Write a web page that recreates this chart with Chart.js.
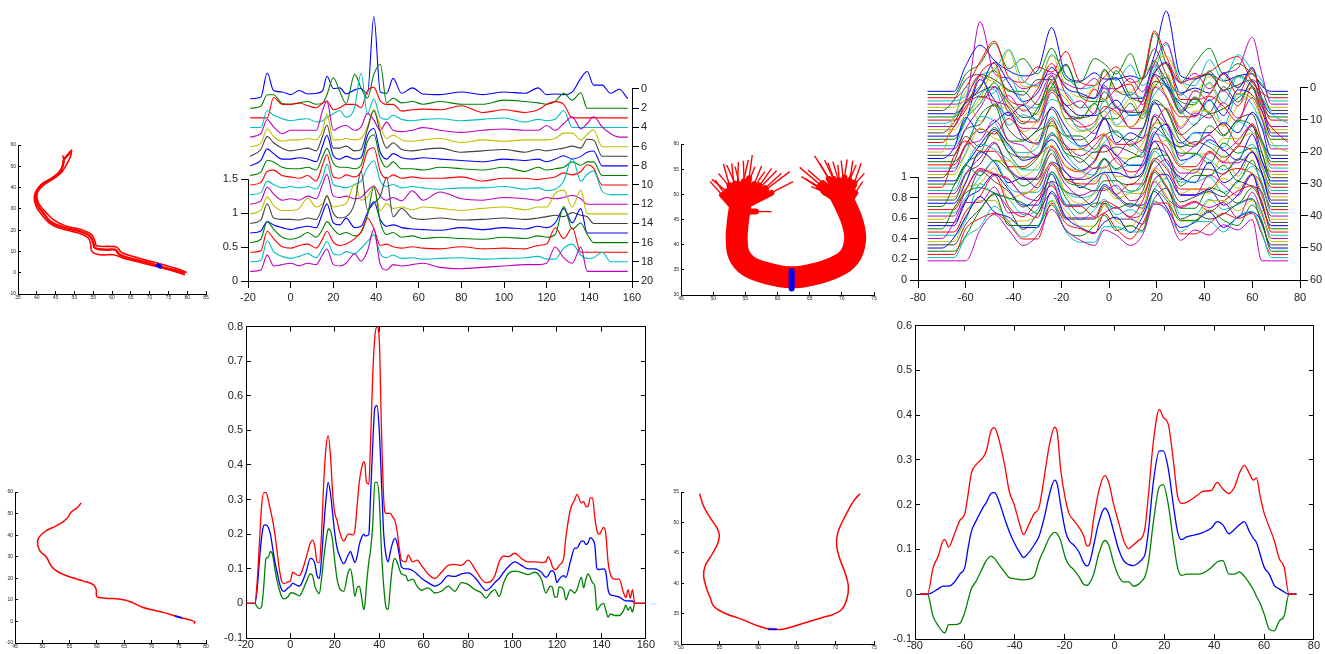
<!DOCTYPE html>
<html>
<head>
<meta charset="utf-8">
<script src="https://cdn.jsdelivr.net/npm/chart.js@4.4.1/dist/chart.umd.min.js"></script>
<style>
html,body{margin:0;padding:0;background:#fff;}
#fig{position:relative;width:1325px;height:654px;background:#fff;overflow:hidden;}
#fig canvas{position:absolute;}
</style>
</head>
<body>
<div id="fig"></div>
<script>
// ---------- data ----------

// top-left: a few streamlines of the bundle
let tractA1X=[49.1,48.39,47.23,46.88,45.99,44.4,41.29,39.79,40.14,41.74,43.51,46.61,51.49,54.15,55.04,55.48,58.58,60.8,62.13,65.67,70.11,72.77,76.31,78.97,79.4]
let tractA1Y=[57.2,55.6,53.2,50.1,46.9,44.6,41.4,36.7,32.0,28.1,24.2,21.5,19.4,17.1,13.9,11.6,10.8,10.8,8.4,6.4,4.5,2.9,1.4,0.1,-0.2]
let tractA2X=[46.88,47.23,46.7,45.28,42.62,40.41,39.34,39.79,41.29,43.33,46.17,51.05,53.71,54.33,54.68,56.81,60.35,63.01,66.56,70.99,74.54,78.09,79.4]
let tractA2Y=[55.13,52.92,49.31,46.16,43.02,39.87,35.94,31.23,27.3,23.36,20.85,18.65,16.29,13.14,10.0,8.43,8.43,6.86,5.28,3.24,1.67,-0.22,-1.0]
let tractA3X=[49.27,49.01,47.94,46.61,44.4,41.74,40.14,40.41,42.18,44.4,47.5,52.38,54.59,55.48,55.92,59.47,61.24,62.57,66.12,70.55,73.65,77.2,79.86]
let tractA3Y=[57.96,54.81,50.88,47.26,44.12,40.97,37.52,32.8,28.87,24.94,22.11,19.91,17.86,14.72,12.67,12.36,12.04,9.53,7.33,5.28,3.71,1.98,0.09]
let markA={x:[71.8,73.2],y:[3.9,2.6]}

// top-middle: 19 stacked profiles (height above each baseline)
let gridB=[-19,-14,-11,-8,-4,0,4,8,12,15,17,20,23,26,30,33,36,39,42,45,48,52,57,62,70,80,90,100,110,116,120,124,128,132,136,139,142,146,150,154,158]
let profilesB=[
[0,0.02,0.38,0.12,0.1,0.06,0.12,0.07,0.08,0.12,0.33,0.15,0.16,0.07,0.13,0.15,0.07,1.21,0.1,0.08,0.3,0.08,0.16,0.07,0.06,0.1,0.06,0.1,0.08,0.16,0.06,0.07,0.06,0.1,0.3,0.4,0.2,0.2,0.08,0.14,0],
[0,0.03,0.2,0.2,0.07,0.06,0.08,0.1,0.06,0.08,0.2,0.45,0.25,0.07,0.5,0.3,0.15,0.5,0.65,0.08,0.15,0.08,0.1,0.06,0.1,0.06,0.06,0.12,0.1,0.08,0.06,0.1,0.22,0.12,0.23,0,0,0,0,0,0],
[0,0,0,0.3,0.2,0.2,0.22,0.18,0.15,0.22,0.25,0.12,0.15,0.2,0.2,0.15,0.4,0.45,0.25,0.2,0.2,0.1,0.12,0.13,0.12,0.18,0.08,0.12,0.08,0.12,0.2,0.24,0.2,0,0,0,0,0,0,0,0],
[0,0,0.25,0.18,0.13,0.1,0.12,0.13,0.08,0.1,0.15,0.2,0.25,0.15,0.3,0.8,0.2,0.42,0.15,0.12,0.18,0.12,0.1,0.12,0.13,0.1,0.12,0.14,0.08,0.12,0.1,0.12,0.25,0,0,0,0,0,0,0,0],
[0,0.05,0.26,0.15,0.05,0.1,0.1,0.1,0.1,0.4,0.53,0.1,0.15,0.17,0.1,0.15,0.35,0.25,0.1,0.22,0.1,0.08,0.1,0.14,0.1,0.07,0.1,0.12,0.1,0.1,0.17,0.1,0.2,0.3,0.12,0.2,0.3,0.15,0.05,0,0],
[0,0.05,0.26,0.15,0.08,0.1,0.1,0.12,0.1,0.25,0.48,0.1,0.1,0.12,0.1,0.12,0.3,0.55,0.3,0.12,0.17,0.1,0.08,0.1,0.12,0.06,0.1,0.08,0.1,0.1,0.1,0.12,0.2,0.2,0.1,0.18,0.25,0,0,0,0],
[0,0.1,0.29,0.2,0.12,0.08,0.1,0.12,0.08,0.3,0.46,0.12,0.12,0.15,0.08,0.1,0.4,0.67,0.35,0.12,0.2,0.1,0.08,0.1,0.12,0.06,0.08,0.1,0.06,0.1,0.08,0.1,0.12,0.15,0.12,0.25,0.24,0,0,0,0],
[0,0.08,0.25,0.18,0.1,0.1,0.12,0.1,0.06,0.3,0.45,0.15,0.1,0.14,0.1,0.12,0.45,0.55,0.2,0.1,0.18,0.12,0.1,0.12,0.1,0.08,0.06,0.1,0.08,0.1,0.06,0.1,0.15,0.1,0.14,0.2,0.22,0,0,0,0],
[0,0.05,0.22,0.2,0.12,0.1,0.1,0.12,0.08,0.28,0.4,0.18,0.12,0.12,0.1,0.15,0.5,0.6,0.25,0.12,0.2,0.1,0.1,0.08,0.12,0.1,0.08,0.12,0.06,0.12,0.08,0.1,0.12,0.2,0.15,0.2,0.2,0,0,0,0],
[0,0.04,0.2,0.22,0.14,0.12,0.1,0.14,0.06,0.3,0.45,0.12,0.1,0.15,0.12,0.2,0.5,0.55,0.2,0.1,0.15,0.1,0.12,0.1,0.1,0.12,0.06,0.1,0.1,0.08,0.1,0.12,0.18,0.15,0.2,0.3,0.25,0,0,0,0],
[0,0.03,0.2,0.15,0.1,0.12,0.1,0.12,0.08,0.25,0.45,0.15,0.12,0.1,0.15,0.2,0.4,0.5,0.2,0.12,0.15,0.1,0.12,0.1,0.08,0.1,0.1,0.12,0.08,0.1,0.06,0.08,0.2,0.54,0.2,0.3,0.35,0.05,0,0,0],
[0,0.05,0.25,0.15,0.06,0.08,0.06,0.12,0.08,0.3,0.44,0.12,0.1,0.12,0.08,0.1,0.2,0.27,0.12,0.06,0.1,0.05,0.2,0.06,0.18,0.08,0.06,0.1,0.08,0.06,0.1,0.08,0.1,0.13,0.08,0,0,0,0,0,0],
[0,0.05,0.25,0.12,0.05,0.05,0.08,0.23,0.1,0.15,0.25,0.1,0.12,0.15,0.44,0.2,0.25,0.4,0.05,0.15,0.08,0.1,0.06,0.1,0.08,0.05,0.08,0.1,0.06,0.1,0.1,0.3,0.35,0.1,0.35,0,0,0,0,0,0],
[0,0.05,0.29,0.08,0.06,0.06,0.05,0.08,0.06,0.25,0.41,0.15,0.08,0.1,0.3,0.77,0.2,0.3,0.4,0.68,0.1,0.22,0.08,0.06,0.08,0.05,0.06,0.08,0.06,0.08,0.1,0.12,0.1,0.16,0.12,0.1,0,0,0,0,0],
[0,0.03,0.17,0.12,0.08,0.05,0.08,0.1,0.08,0.3,0.43,0.15,0.12,0.22,0.08,0.1,0.3,0.46,0.2,0.1,0.12,0.08,0.06,0.05,0.04,0.08,0.05,0.08,0.06,0.1,0.08,0.15,0.36,0.15,0.36,0,0,0,0,0,0],
[0,0.05,0.31,0.2,0.08,0.05,0.08,0.15,0.08,0.2,0.31,0.2,0.12,0.15,0.1,0.15,0.4,0.82,0.3,0.12,0.15,0.08,0.1,0.06,0.08,0.06,0.05,0.08,0.06,0.1,0.08,0.12,0.53,0.2,0.29,0.12,0,0,0,0,0],
[0,0.02,0.31,0.2,0.08,0.06,0.1,0.12,0.06,0.2,0.31,0.15,0.1,0.12,0.2,0.3,0.5,0.35,0.1,0.12,0.08,0.06,0.08,0.06,0.05,0.08,0.05,0.06,0.05,0.1,0.12,0.36,0.2,0.36,0,0,0,0,0,0,0],
[0,0.02,0.31,0.15,0.08,0.05,0.08,0.12,0.06,0.2,0.3,0.12,0.1,0.15,0.12,0.2,0.3,0.4,0.12,0.06,0.1,0.05,0.06,0.04,0.05,0.06,0.04,0.05,0.06,0.08,0.04,0.04,0.2,0.26,0.1,0.05,0.06,0.14,0,0,0],
[0,0.02,0.24,0.08,0.1,0.12,0.08,0.12,0.1,0.25,0.33,0.1,0.08,0.12,0.26,0.15,0.3,0.62,0.1,0.02,0.1,0.08,0.1,0.12,0.06,0.04,0.06,0.08,0.1,0.1,0.12,0.36,0.2,0.12,0.36,0,0,0,0,0,0]
]
let ticksB=[0,0.5,1,1.5]
let ticksB2=[0,2,4,6,8,10,12,14,16,18,20]

// top-third: fibre bundle (core path plus fanning ends)
let bandCX=[54.18,53.81,53.66,54.02,55.46,58.04,62.16,65.77,68.87,71.19,72.06,71.7,70.67,69.38]
let bandCY=[47.55,44.24,40.93,37.95,35.76,34.44,33.51,34.17,35.5,37.6,40.93,44.24,47.55,50.86]
let fanLX=[49.54,49.79,50.31,50.82,51.6,52.11,52.89,53.4,53.92,54.69,55.46,56.08,56.49,57.53,58.04,59.07,59.85,60.62,61.91,62.42,59.07]
let fanLY=[52.52,52.98,52.85,54.17,56.03,55.83,56.16,55.5,56.49,56.69,56.82,57.81,55.5,55.63,54.5,55.17,54.7,54.17,54.5,52.52,46.56]
let fanRX=[63.45,63.71,64.23,64.74,65.77,66.55,67.32,67.84,68.61,69.38,69.9,70.82,71.7,72.22,72.99,73.5,73.25,71.44,66.8,65.26]
let fanRY=[55.36,53.51,53.18,54.83,57.62,56.16,56.82,56.29,56.49,55.83,56.69,56.95,56.69,55.83,56.16,54.17,52.52,54.17,52.19,51.52]
let fanBasesL=[{x:53.66,y:46.6},{x:54.95,y:47.6}]
let fanBasesR=[{x:70.67,y:47.55},{x:69.9,y:49.0}]
let markC={x:[62.2,62.2],y:[34.7,31.3]}

// top-right: 54 stacked profiles
let gridD=[-76,-70,-65,-60,-54,-48,-42,-36,-30,-24,-18,-12,-6,-2,3,9,14,19,24,30,36,42,48,54,60,64,68,75]
let profilesD=[
[0,0,0,0.25,0.45,0.3,0.2,0.15,0.2,0.62,0.15,0.1,0.18,0.12,0.12,0.15,0.12,0.35,0.78,0.15,0.12,0.17,0.1,0.15,0.17,0.05,0,0],
[0,0,0,0.2,0.3,0.5,0.25,0.35,0.2,0.45,0.15,0.12,0.35,0.3,0.2,0.4,0.15,0.6,0.3,0.12,0.3,0.45,0.2,0.3,0.2,0.1,0,0],
[0,0,0,0.1,0.35,0.55,0.2,0.15,0.3,0.25,0.45,0.15,0.12,0.2,0.3,0.15,0.2,0.65,0.4,0.15,0.2,0.25,0.35,0.4,0.15,0.05,0,0],
[0,0,0,0.05,0.25,0.3,0.5,0.2,0.15,0.45,0.25,0.12,0.15,0.3,0.2,0.35,0.15,0.3,0.55,0.2,0.15,0.4,0.2,0.45,0.3,0.2,0,0],
[0,0,0,0.05,0.8,0.3,0.25,0.15,0.2,0.3,0.2,0.15,0.25,0.15,0.15,0.25,0.12,0.4,0.6,0.2,0.3,0.15,0.3,0.35,0.65,0.3,0,0],
[0,0,0,0.15,0.3,0.25,0.55,0.2,0.2,0.5,0.2,0.1,0.2,0.35,0.15,0.15,0.3,0.45,0.5,0.25,0.15,0.3,0.25,0.2,0.35,0.1,0,0],
[0,0,0.1,0.3,0.35,0.3,0.2,0.15,0.3,0.3,0.45,0.15,0.12,0.4,0.2,0.15,0.3,0.6,0.35,0.15,0.3,0.35,0.2,0.25,0.3,0.2,0,0],
[0,0,0,0.1,0.25,0.5,0.3,0.12,0.2,0.45,0.25,0.2,0.15,0.3,0.35,0.15,0.15,0.4,0.5,0.2,0.25,0.2,0.4,0.25,0.45,0.15,0,0],
[0,0,0,0.15,0.3,0.45,0.25,0.25,0.12,0.3,0.5,0.2,0.15,0.15,0.45,0.2,0.15,0.55,0.3,0.15,0.12,0.45,0.25,0.4,0.3,0.1,0,0],
[0,0,0,0.1,0.45,0.55,0.2,0.15,0.3,0.55,0.25,0.12,0.3,0.2,0.3,0.35,0.15,0.45,0.55,0.2,0.2,0.25,0.45,0.25,0.5,0.2,0,0],
[0,0,0.05,0.35,0.25,0.3,0.45,0.2,0.15,0.35,0.3,0.15,0.2,0.35,0.15,0.3,0.25,0.55,0.35,0.3,0.2,0.4,0.2,0.45,0.35,0.25,0.1,0],
[0,0,0,0.25,0.5,0.2,0.3,0.15,0.25,0.5,0.2,0.25,0.12,0.4,0.2,0.15,0.25,0.6,0.45,0.15,0.35,0.25,0.35,0.2,0.45,0.2,0,0],
[0,0,0,0.15,0.3,0.6,0.25,0.2,0.15,0.4,0.3,0.12,0.25,0.3,0.15,0.3,0.15,0.45,0.55,0.2,0.25,0.45,0.2,0.35,0.3,0.1,0,0],
[0,0,0.1,0.3,0.4,0.45,0.3,0.15,0.2,0.55,0.2,0.15,0.2,0.4,0.25,0.2,0.2,0.5,0.45,0.2,0.35,0.2,0.45,0.3,0.5,0.3,0,0],
[0,0,0,0.15,0.55,0.35,0.2,0.3,0.15,0.45,0.3,0.2,0.2,0.25,0.35,0.2,0.25,0.6,0.5,0.3,0.2,0.35,0.2,0.45,0.4,0.25,0,0],
[0,0,0,0.2,0.35,0.55,0.3,0.15,0.3,0.55,0.2,0.2,0.35,0.2,0.2,0.35,0.2,0.5,0.6,0.25,0.4,0.25,0.3,0.4,0.5,0.2,0,0],
[0,0,0.15,0.35,0.45,0.4,0.35,0.2,0.2,0.6,0.3,0.15,0.2,0.35,0.3,0.15,0.3,0.65,0.45,0.25,0.25,0.45,0.35,0.2,0.55,0.3,0.15,0],
[0,0,0,0.25,0.5,0.55,0.2,0.3,0.25,0.45,0.35,0.15,0.2,0.45,0.2,0.3,0.3,0.5,0.6,0.35,0.2,0.45,0.2,0.5,0.4,0.2,0,0],
[0,0,0,0.2,0.4,0.6,0.35,0.2,0.2,0.55,0.35,0.25,0.15,0.3,0.4,0.2,0.2,0.6,0.5,0.2,0.35,0.3,0.45,0.3,0.5,0.3,0,0],
[0,0,0.35,0.5,0.3,0.45,0.4,0.2,0.3,0.6,0.3,0.2,0.25,0.4,0.25,0.25,0.35,0.65,0.55,0.25,0.4,0.4,0.25,0.45,0.55,0.35,0.1,0],
[0,0,0,0.25,0.3,0.5,0.25,0.15,0.25,0.45,0.2,0.15,0.25,0.35,0.2,0.15,0.25,0.5,0.45,0.2,0.3,0.4,0.2,0.35,0.4,0.15,0,0],
[0,0,0.1,0.4,0.25,0.35,0.45,0.2,0.15,0.5,0.3,0.12,0.2,0.4,0.15,0.25,0.2,0.55,0.35,0.15,0.25,0.25,0.35,0.25,0.45,0.3,0,0],
[0,0,0,0.15,0.45,0.55,0.2,0.2,0.3,0.35,0.25,0.25,0.12,0.25,0.3,0.15,0.3,0.6,0.5,0.2,0.15,0.35,0.25,0.4,0.35,0.2,0,0],
[0,0,0,0.2,0.35,0.3,0.45,0.3,0.2,0.45,0.15,0.15,0.25,0.3,0.2,0.2,0.25,0.4,0.55,0.3,0.2,0.3,0.4,0.2,0.4,0.2,0,0],
[0,0,0,0.15,0.5,0.45,0.2,0.15,0.2,0.5,0.3,0.2,0.15,0.25,0.35,0.25,0.15,0.5,0.35,0.2,0.35,0.25,0.2,0.45,0.35,0.25,0,0],
[0,0,0,0.25,0.3,0.5,0.3,0.25,0.15,0.35,0.25,0.15,0.25,0.35,0.15,0.3,0.2,0.55,0.45,0.15,0.25,0.35,0.2,0.3,0.45,0.1,0,0],
[0,0,0,0.2,0.45,0.35,0.3,0.15,0.35,0.5,0.2,0.25,0.15,0.4,0.2,0.15,0.3,0.5,0.5,0.25,0.2,0.2,0.35,0.35,0.4,0.3,0,0],
[0,0,0.15,0.4,0.3,0.45,0.25,0.2,0.2,0.55,0.3,0.15,0.25,0.25,0.3,0.25,0.2,0.6,0.4,0.3,0.35,0.3,0.2,0.3,0.5,0.25,0,0],
[0,0,0,0.15,0.35,0.5,0.35,0.2,0.25,0.4,0.2,0.1,0.2,0.35,0.25,0.15,0.15,0.45,0.55,0.2,0.25,0.4,0.3,0.2,0.45,0.2,0,0],
[0,0,0,0.2,0.3,0.55,0.3,0.15,0.25,0.5,0.3,0.25,0.15,0.25,0.15,0.25,0.3,0.55,0.45,0.3,0.3,0.2,0.4,0.3,0.35,0.3,0,0],
[0,0,0.3,0.45,0.35,0.35,0.2,0.2,0.3,0.4,0.2,0.15,0.25,0.4,0.25,0.15,0.2,0.45,0.4,0.2,0.2,0.35,0.25,0.4,0.35,0.2,0,0],
[0,0,0,0.25,0.45,0.4,0.3,0.2,0.2,0.55,0.35,0.2,0.15,0.3,0.2,0.25,0.25,0.55,0.5,0.25,0.35,0.3,0.2,0.3,0.45,0.25,0,0],
[0,0,0,0.2,0.35,0.5,0.25,0.15,0.15,0.45,0.2,0.15,0.25,0.25,0.35,0.15,0.3,0.6,0.4,0.2,0.2,0.4,0.3,0.3,0.4,0.2,0,0],
[0,0,0,0.15,0.45,0.35,0.35,0.2,0.3,0.5,0.3,0.25,0.15,0.3,0.2,0.2,0.2,0.45,0.55,0.3,0.25,0.2,0.4,0.2,0.45,0.3,0,0],
[0,0,0,0.25,0.35,0.55,0.3,0.2,0.2,0.45,0.2,0.2,0.25,0.4,0.2,0.15,0.25,0.5,0.45,0.2,0.3,0.3,0.25,0.4,0.35,0.25,0,0],
[0,0,0,0.2,0.5,0.4,0.2,0.25,0.15,0.4,0.3,0.15,0.25,0.3,0.3,0.25,0.3,0.6,0.4,0.25,0.2,0.4,0.2,0.3,0.5,0.3,0,0],
[0,0,0.2,0.4,0.3,0.45,0.35,0.2,0.3,0.55,0.25,0.2,0.15,0.25,0.25,0.15,0.2,0.45,0.5,0.2,0.3,0.3,0.4,0.25,0.45,0.2,0,0],
[0,0,0,0.2,0.4,0.35,0.3,0.15,0.25,0.45,0.3,0.25,0.25,0.35,0.15,0.25,0.25,0.5,0.4,0.2,0.2,0.2,0.35,0.4,0.35,0.25,0,0],
[0,0,0,0.15,0.35,0.5,0.25,0.2,0.2,0.4,0.2,0.15,0.2,0.4,0.25,0.2,0.3,0.6,0.45,0.3,0.3,0.35,0.2,0.3,0.45,0.3,0,0],
[0,0,0,0.25,0.45,0.4,0.35,0.2,0.15,0.5,0.3,0.2,0.25,0.25,0.3,0.15,0.2,0.45,0.55,0.2,0.2,0.4,0.3,0.2,0.4,0.2,0,0],
[0,0,0.1,0.3,0.35,0.5,0.2,0.25,0.3,0.55,0.25,0.15,0.25,0.3,0.2,0.25,0.25,0.5,0.4,0.25,0.3,0.25,0.4,0.3,0.45,0.25,0,0],
[0,0,0,0.2,0.5,0.4,0.3,0.15,0.25,0.4,0.3,0.25,0.15,0.35,0.25,0.15,0.3,0.6,0.45,0.2,0.25,0.3,0.25,0.4,0.35,0.3,0,0],
[0,0,0,0.25,0.35,0.5,0.35,0.2,0.2,0.5,0.2,0.2,0.25,0.4,0.3,0.2,0.2,0.45,0.5,0.3,0.3,0.35,0.2,0.3,0.5,0.2,0,0],
[0,0,0.2,0.35,0.4,0.35,0.3,0.25,0.15,0.55,0.3,0.15,0.25,0.25,0.2,0.25,0.2,0.55,0.4,0.2,0.2,0.4,0.35,0.25,0.4,0.25,0,0],
[0,0,0,0.2,0.35,0.55,0.25,0.15,0.3,0.45,0.25,0.25,0.15,0.3,0.25,0.15,0.3,0.6,0.45,0.25,0.3,0.2,0.3,0.4,0.45,0.3,0,0],
[0,0,0,0.15,0.5,0.4,0.35,0.2,0.25,0.5,0.3,0.15,0.25,0.35,0.2,0.25,0.2,0.45,0.55,0.2,0.2,0.35,0.25,0.3,0.35,0.2,0,0],
[0,0,0.15,0.35,0.35,0.5,0.25,0.25,0.2,0.55,0.2,0.2,0.2,0.25,0.3,0.2,0.25,0.55,0.4,0.3,0.35,0.3,0.35,0.2,0.45,0.25,0,0],
[0,0,0,0.25,0.4,0.4,0.2,0.2,0.25,0.4,0.3,0.15,0.15,0.35,0.2,0.15,0.3,0.6,0.45,0.2,0.2,0.4,0.4,0.3,0.4,0.3,0,0],
[0,0,0,0.2,0.35,0.5,0.35,0.15,0.3,0.5,0.25,0.25,0.25,0.4,0.25,0.25,0.2,0.45,0.55,0.25,0.3,0.25,0.3,0.4,0.45,0.2,0,0],
[0,0,0.1,0.3,0.5,0.35,0.3,0.2,0.2,0.55,0.3,0.2,0.15,0.25,0.3,0.15,0.3,0.55,0.4,0.2,0.25,0.35,0.2,0.3,0.35,0.25,0,0],
[0,0,0,0.15,0.4,0.55,0.25,0.25,0.25,0.45,0.2,0.15,0.25,0.35,0.2,0.25,0.2,0.6,0.5,0.3,0.3,0.4,0.3,0.25,0.45,0.3,0,0],
[0,0,0,0.25,0.35,0.4,0.3,0.15,0.15,0.5,0.3,0.25,0.2,0.4,0.25,0.15,0.3,0.5,0.5,0.2,0.2,0.3,0.4,0.35,0.4,0.2,0,0],
[0,0,0,0.2,0.3,0.5,0.35,0.2,0.3,0.55,0.25,0.15,0.15,0.3,0.3,0.25,0.25,0.55,0.45,0.25,0.35,0.35,0.25,0.4,0.45,0.25,0,0],
[0,0,0,0,0.3,0.45,0.3,0.15,0.25,0.5,0.3,0.2,0.15,0.3,0.25,0.15,0.25,0.55,0.5,0.2,0.3,0.25,0.35,0.3,0.4,0,0,0]
]
let ticksD=[0,0.2,0.4,0.6,0.8,1]
let ticksD2=[0,10,20,30,40,50,60]

// bottom-left: single streamline
let tractEX=[57.13,56.34,55.3,54.82,53.9,52.38,50.55,49.33,49.15,49.63,50.73,51.77,52.99,55.12,57.56,59.39,59.88,60.0,61.22,64.88,66.71,68.23,70.06,72.2,74.94,77.38,77.99,77.8]
let tractEY=[54.9,52.6,50.7,48.7,46.4,44.1,41.8,38.7,35.6,32.5,29.9,25.2,22.8,20.6,18.7,17.0,14.7,11.6,10.9,10.1,8.5,6.7,5.4,4.2,2.0,0.5,-0.4,-1.0]
let markE={x:[74.3,75.6],y:[2.6,1.6]}

// bottom-middle: three profiles
let xF=[-20,-16,-15,-14,-13,-12,-11,-10,-9,-8,-7,-6,-5,-4,-3,-1,0,1,3,4,5,7,9,10,11,12,13,14,15,16,17,18,19,20,21,22,24,26,27,28,29,30,31,32,33,33.6,34.2,35.3,36,37,38,39,40,41,42,43,44,45,46,47,48,49,50,52,53,55,57,59,62,65,68,71,74,77,80,83,86,88,90,92,94,96,98,101,104,107,110,113,115,116,117,118,119,120,121,123,124,126,128,129,131,132,133,134,135,136,137,138,139,141,142,143,144,146,148,150,151,152,153,154,155,160]
let redF=[0,0,0.06,0.17,0.28,0.32,0.32,0.30,0.27,0.24,
0.20,0.15,0.10,0.065,0.057,0.062,0.065,0.09,0.082,0.08,
0.09,0.13,0.175,0.183,0.165,0.12,0.118,0.20,0.35,0.45,
0.485,0.43,0.32,0.26,0.24,0.21,0.18,0.20,0.20,0.198,
0.21,0.28,0.35,0.39,0.41,0.40,0.35,0.345,0.45,0.65,
0.77,0.80,0.76,0.50,0.30,0.26,0.26,0.26,0.25,0.24,
0.21,0.16,0.125,0.12,0.14,0.12,0.125,0.11,0.085,0.072,
0.09,0.11,0.113,0.11,0.125,0.10,0.07,0.06,0.063,0.08,
0.12,0.137,0.135,0.145,0.13,0.12,0.12,0.118,0.12,0.135,
0.125,0.105,0.098,0.10,0.11,0.13,0.19,0.27,0.30,0.315,
0.29,0.295,0.28,0.28,0.305,0.305,0.25,0.21,0.20,0.22,
0.2,0.12,0.085,0.07,0.07,0.03,0.017,0.04,0.015,0.04,
0,0]
let blueF=[0,0,0.04,0.12,0.19,0.225,0.227,0.22,0.20,0.16,
0.12,0.09,0.06,0.04,0.035,0.045,0.05,0.058,0.052,0.05,
0.057,0.09,0.13,0.128,0.115,0.08,0.072,0.13,0.22,0.30,
0.35,0.32,0.26,0.20,0.16,0.14,0.115,0.14,0.15,0.135,
0.118,0.135,0.17,0.19,0.20,0.195,0.195,0.20,0.30,0.45,
0.565,0.572,0.50,0.35,0.20,0.14,0.12,0.15,0.175,0.188,
0.175,0.14,0.105,0.10,0.10,0.095,0.085,0.073,0.06,0.05,
0.06,0.08,0.078,0.085,0.088,0.075,0.05,0.037,0.045,0.06,
0.072,0.09,0.105,0.12,0.11,0.10,0.10,0.09,0.075,0.08,
0.092,0.095,0.085,0.06,0.07,0.08,0.075,0.12,0.16,0.16,
0.18,0.18,0.17,0.175,0.19,0.185,0.17,0.10,0.098,0.10,
0.09,0.04,0.025,0.022,0.018,0.01,0.007,0.008,0.007,0.007,
0,0]
let greenF=[0,0,-0.01,-0.015,-0.01,0.05,0.13,0.133,0.15,0.14,
0.10,0.065,0.04,0.02,0.013,0.02,0.03,0.03,0.025,0.022,
0.03,0.06,0.085,0.08,0.05,0.035,0.028,0.07,0.13,0.18,
0.215,0.21,0.18,0.12,0.07,0.045,0.035,0.09,0.10,0.07,
0.02,0.045,0.05,0.02,-0.018,0.0,0.05,0.12,0.15,0.22,
0.35,0.35,0.30,0.15,0.05,-0.01,-0.018,0.05,0.11,0.13,
0.12,0.10,0.085,0.08,0.065,0.07,0.05,0.038,0.045,0.03,
0.035,0.05,0.035,0.06,0.055,0.04,0.03,0.015,0.03,0.04,
0.02,0.06,0.085,0.093,0.09,0.083,0.09,0.07,0.03,0.04,
0.05,0.045,0.018,0.018,0.048,0.04,0.01,0.04,0.03,0.04,
0.075,0.045,0.07,0.085,0.075,0.06,0.05,-0.02,-0.01,0.0,
-0.02,-0.04,-0.03,-0.035,-0.035,-0.02,-0.005,-0.02,-0.01,-0.025,
0,0]

// bottom-third: single streamline
let curveGX=[52.41,52.93,53.79,54.66,54.96,54.78,54.01,53.15,52.93,53.36,53.79,54.22,55.52,57.89,60.04,61.77,63.49,66.08,68.23,69.74,70.82,71.47,71.68,71.25,70.6,70.17,70.3,71.25,72.33,73.19]
let curveGY=[54.73,52.65,50.73,49.09,48.0,46.63,44.72,42.91,41.16,38.97,37.6,36.24,35.14,34.05,32.95,32.41,32.52,33.5,34.32,34.87,35.69,37.33,39.52,41.71,43.9,46.08,48.27,51.0,53.47,54.73]
let markG={x:[61.3,62.4],y:[32.42,32.45]}

// bottom-right: three profiles
let xH=[-78,-75,-72.7,-70.7,-68.7,-68,-66.5,-64.5,-62,-60,-58.8,-57.4,-55.4,-52.8,-51.4,-49.5,-48.1,-46.8,-44.1,-42.2,-40.2,-38.2,-36.4,-34.8,-32.2,-30.2,-28.2,-26.2,-24,-22.9,-21.6,-19.6,-18.2,-16.3,-14.3,-12.3,-11,-10,-8.3,-6.3,-3.9,-2.3,-0.3,1.7,3.7,5.7,7.6,9.6,11.4,12.3,13.6,15.6,18,19.6,21.6,23.6,25.3,26.9,28.9,33.5,35.5,38.9,41.2,43.5,45.9,48.2,50.1,52.1,54.1,55.7,57,58.4,60.1,62.1,64.1,66.1,68.1,70,73]
let redH=[0,0,0.06,0.085,0.12,0.122,0.105,0.13,0.165,0.18,
0.22,0.27,0.29,0.305,0.32,0.365,0.372,0.355,0.29,0.23,
0.20,0.16,0.133,0.15,0.18,0.195,0.26,0.33,0.373,0.36,
0.28,0.21,0.18,0.165,0.15,0.13,0.108,0.11,0.17,0.23,
0.265,0.25,0.20,0.16,0.12,0.102,0.11,0.12,0.13,0.15,
0.22,0.34,0.413,0.395,0.38,0.30,0.22,0.203,0.205,0.222,
0.23,0.232,0.25,0.235,0.225,0.24,0.27,0.288,0.27,0.255,
0.26,0.22,0.18,0.15,0.12,0.08,0.06,0,0]
let blueH=[0,0,0.005,0.012,0.018,0.018,0.018,0.025,0.045,0.06,
0.10,0.14,0.165,0.193,0.205,0.225,0.227,0.215,0.17,0.14,
0.115,0.095,0.082,0.09,0.11,0.13,0.17,0.22,0.255,0.245,
0.20,0.14,0.12,0.11,0.095,0.07,0.063,0.07,0.11,0.16,
0.192,0.18,0.14,0.10,0.075,0.066,0.064,0.07,0.08,0.09,
0.14,0.25,0.32,0.32,0.28,0.20,0.14,0.122,0.128,0.134,
0.138,0.148,0.162,0.155,0.135,0.145,0.155,0.162,0.14,0.125,
0.115,0.09,0.06,0.045,0.02,0.012,0.005,0,0]
let greenH=[0,0,-0.05,-0.07,-0.085,-0.086,-0.068,-0.068,-0.065,-0.04,
-0.015,0.012,0.03,0.06,0.075,0.085,0.08,0.07,0.05,0.037,
0.035,0.033,0.032,0.033,0.04,0.075,0.10,0.125,0.138,0.135,
0.12,0.08,0.065,0.055,0.04,0.022,0.02,0.025,0.045,0.09,
0.12,0.11,0.07,0.04,0.027,0.028,0.018,0.022,0.032,0.04,
0.07,0.16,0.24,0.245,0.20,0.12,0.06,0.042,0.045,0.045,
0.047,0.06,0.072,0.075,0.045,0.045,0.05,0.04,0.025,0.01,
-0.005,-0.02,-0.045,-0.078,-0.082,-0.06,-0.048,0,0]

// ---------- drawing ----------

const FONT='"Liberation Sans", Arial, sans-serif'
const MAT=['#0000ff','#008000','#ff0000','#00bfbf','#bf00bf','#bfbf00','#404040']
// one subject step on the right-hand axis, in left-axis units
const STEP_B=0.1414
const STEP_D=0.0311

function fmt(v){
let r=Math.round(v*100)/100
if(Math.abs(r)<1e-9) r=0
return String(r)
}

function pts(xs,ys){
return xs.map((x,i)=>({x:x,y:ys[i]}))
}

function line(data,color,width,extra){
return Object.assign({data:data,borderColor:color,backgroundColor:color,borderWidth:width,showLine:true,pointRadius:0,pointHoverRadius:0,fill:false},extra||{})
}

function axis(o){
let a={
type:"linear",position:o.pos,min:o.min,max:o.max,reverse:!!o.reverse,
ticks:{display:o.labels!==false,autoSkip:false,maxRotation:0,stepSize:o.step,padding:o.pad||0,color:"#222",font:{family:FONT,size:o.fs||11},callback:v=>fmt(v)},
grid:{display:true,drawOnChartArea:false,drawTicks:true,tickLength:o.tl,color:"#000",lineWidth:1},
border:{display:o.border!==false,color:"#000",width:1},
afterFit:s=>{ if(s.isHorizontal()) s.height=o.size; else s.width=o.size }
}
if(o.ticks) a.afterBuildTicks=s=>{ s.ticks=o.ticks.map(v=>({value:v})) }
return a
}

// axis lines that only span part of the plot height (the stacked panels)
const partialAxes={
id:"partialAxes",
afterDraw(chart,args,opts){
if(!opts||!opts.lines) return
let ctx=chart.ctx
ctx.save()
ctx.strokeStyle="#000"
ctx.lineWidth=1
opts.lines.forEach(l=>{
let s=chart.scales[l.scale]
let x=Math.round(s.position==="left"?chart.chartArea.left:chart.chartArea.right)+0.5
ctx.beginPath()
ctx.moveTo(x,s.getPixelForValue(l.from))
ctx.lineTo(x,s.getPixelForValue(l.to))
ctx.stroke()
})
ctx.restore()
}
}

function panel(left,top,w,h,datasets,scales,padding,partial){
let c=document.createElement("canvas")
c.width=w
c.height=h
c.style.left=left+"px"
c.style.top=top+"px"
c.style.width=w+"px"
c.style.height=h+"px"
document.getElementById("fig").appendChild(c)
return new Chart(c,{
type:"scatter",
data:{datasets:datasets},
options:{
responsive:false,animation:false,devicePixelRatio:1,
layout:{padding:padding},
plugins:{legend:{display:false},tooltip:{enabled:false},partialAxes:{lines:partial||null}},
scales:scales,
elements:{line:{borderJoinStyle:"round"}}
},
plugins:[partialAxes]
})
}

// top-left
panel(0,135,215,170,[
line(pts(markA.x,markA.y),"#0000ff",4,{order:0}),
line(pts(tractA1X,tractA1Y),"#ff0000",2.4,{tension:0.4,order:1}),
line(pts(tractA2X,tractA2Y),"#ff0000",1.6,{tension:0.4,order:2}),
line(pts(tractA3X,tractA3Y),"#ff0000",1.6,{tension:0.4,order:3})
],{
x:axis({pos:"bottom",min:35,max:85,step:5,fs:5,tl:-3,pad:4,size:11}),
y:axis({pos:"left",min:-10,max:60,step:10,fs:5,tl:-3,pad:5,size:18})
},{top:10,right:9,left:0,bottom:0})

// top-middle
let dsB=profilesB.map((row,i)=>{
let k=i+1
return line(gridB.map((x,j)=>({x:x,y:(20-k)*STEP_B+row[j]})),MAT[i%7],1.1,{cubicInterpolationMode:"monotone",order:-k,clip:false})
})
panel(215,0,440,310,dsB,{
x:axis({pos:"bottom",min:-20,max:160,step:20,fs:11,tl:7,pad:3,size:29}),
y:axis({pos:"left",min:0,max:4.0,ticks:ticksB,fs:11,tl:7,pad:3,size:33,border:false}),
y2:axis({pos:"right",min:-8.27,max:20,reverse:true,ticks:ticksB2,fs:11,tl:7,pad:2,size:23,border:false})
},{top:4,left:0,right:0,bottom:0},[{scale:"y",from:0,to:1.5},{scale:"y2",from:0,to:20}])

// top-third: thick core, then each fibre of the fans (dense near the base, thin at the tips)
let dsC=[line(pts(markC.x,markC.y),"#0000ff",6,{order:-2})]
dsC.push(line(pts(bandCX,bandCY),"#ff0000",22,{tension:0.4,borderCapStyle:"round",order:0}))
function addFan(tx,ty,bases){
tx.forEach((x,i)=>{
let b=bases[i%bases.length]
let tip={x:x,y:ty[i]}
let mid={x:b.x+(x-b.x)*0.55,y:b.y+(ty[i]-b.y)*0.55}
dsC.push(line([b,mid],"#ff0000",6,{order:1,borderCapStyle:"round"}))
dsC.push(line([b,tip],"#ff0000",1.4,{order:1}))
})
}
addFan(fanLX,fanLY,fanBasesL)
addFan(fanRX,fanRY,fanBasesR)
panel(665,134,220,172,dsC,{
x:axis({pos:"bottom",min:45,max:75,step:5,fs:5,tl:-3,pad:4,size:11}),
y:axis({pos:"left",min:30,max:60,step:5,fs:5,tl:-3,pad:5,size:16})
},{top:10,right:11,left:0,bottom:0})

// top-right
let dsD=profilesD.map((row,i)=>{
let k=i+1
return line(gridD.map((x,j)=>({x:x,y:(60-k)*STEP_D+row[j]})),MAT[i%7],1.0,{cubicInterpolationMode:"monotone",order:-k,clip:false})
})
panel(880,0,445,310,dsD,{
x:axis({pos:"bottom",min:-80,max:80,step:20,fs:11,tl:8,pad:3,size:30}),
y:axis({pos:"left",min:0,max:2.63,ticks:ticksD,fs:11,tl:8,pad:3,size:38,border:false}),
y2:axis({pos:"right",min:-24.5,max:60,reverse:true,ticks:ticksD2,fs:11,tl:8,pad:2,size:25,border:false})
},{top:4,left:0,right:0,bottom:0},[{scale:"y",from:0,to:1},{scale:"y2",from:0,to:60}])

// bottom-left
panel(0,482,215,172,[
line(pts(markE.x,markE.y),"#0000ff",1.8,{order:0}),
line(pts(tractEX,tractEY),"#ff0000",1.5,{tension:0.4,order:1})
],{
x:axis({pos:"bottom",min:45,max:80,step:5,fs:5,tl:-3,pad:4,size:11}),
y:axis({pos:"left",min:-10,max:60,step:10,fs:5,tl:-3,pad:5,size:15})
},{top:10,right:9,left:0,bottom:0})

// bottom-middle
panel(205,312,455,342,[
line(pts(xF,redF),"#ff0000",1.3,{cubicInterpolationMode:"monotone",order:0}),
line(pts(xF,blueF),"#0000ff",1.3,{cubicInterpolationMode:"monotone",order:1}),
line(pts(xF,greenF),"#008000",1.3,{cubicInterpolationMode:"monotone",order:2})
],{
x:axis({pos:"bottom",min:-20,max:160,step:20,fs:11,tl:-5,pad:5,size:16}),
xTop:axis({pos:"top",min:-20,max:160,step:20,labels:false,tl:-5,size:10}),
y:axis({pos:"left",min:-0.1,max:0.8,step:0.1,fs:11,tl:-5,pad:8,size:41}),
yRight:axis({pos:"right",min:-0.1,max:0.8,step:0.1,labels:false,tl:-5,size:13})
},{top:0,left:0,right:0,bottom:0})

// bottom-third
panel(665,482,220,172,[
line(pts(markG.x,markG.y),"#0000ff",1.8,{order:0}),
line(pts(curveGX,curveGY),"#ff0000",1.5,{tension:0.4,order:1})
],{
x:axis({pos:"bottom",min:50,max:75,step:5,fs:5,tl:-3,pad:4,size:10}),
y:axis({pos:"left",min:30,max:55,step:5,fs:5,tl:-3,pad:5,size:16})
},{top:10,right:11,left:0,bottom:0})

// bottom-right
panel(875,311,450,343,[
line(pts(xH,redH),"#ff0000",1.3,{cubicInterpolationMode:"monotone",order:0}),
line(pts(xH,blueH),"#0000ff",1.3,{cubicInterpolationMode:"monotone",order:1}),
line(pts(xH,greenH),"#008000",1.3,{cubicInterpolationMode:"monotone",order:2})
],{
x:axis({pos:"bottom",min:-80,max:80,step:20,fs:11,tl:-5,pad:5,size:15}),
xTop:axis({pos:"top",min:-80,max:80,step:20,labels:false,tl:-5,size:10}),
y:axis({pos:"left",min:-0.1,max:0.6,step:0.1,fs:11,tl:-5,pad:8,size:40}),
yRight:axis({pos:"right",min:-0.1,max:0.6,step:0.1,labels:false,tl:-5,size:8})
},{top:0,left:0,right:0,bottom:0})
</script>
</body>
</html>
